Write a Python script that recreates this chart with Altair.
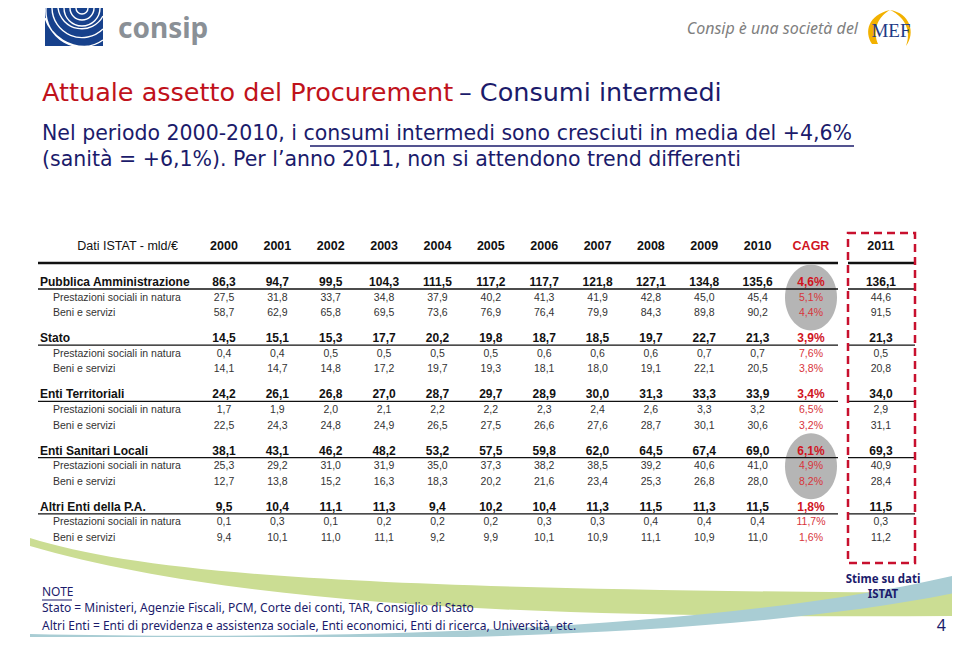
import altair as alt
import pandas as pd

# ---------------- data ----------------
years = ["2000", "2001", "2002", "2003", "2004", "2005", "2006", "2007", "2008", "2009", "2010"]
groups = ["Pubblica Amministrazione", "Stato", "Enti Territoriali", "Enti Sanitari Locali", "Altri Enti della P.A."]
subs = ["Prestazioni sociali in natura", "Beni e servizi"]

pa_tot = [86.3, 94.7, 99.5, 104.3, 111.5, 117.2, 117.7, 121.8, 127.1, 134.8, 135.6]
pa_pres = [27.5, 31.8, 33.7, 34.8, 37.9, 40.2, 41.3, 41.9, 42.8, 45.0, 45.4]
pa_beni = [58.7, 62.9, 65.8, 69.5, 73.6, 76.9, 76.4, 79.9, 84.3, 89.8, 90.2]
pa_cagr = [4.6, 5.1, 4.4]
pa_2011 = [136.1, 44.6, 91.5]

st_tot = [14.5, 15.1, 15.3, 17.7, 20.2, 19.8, 18.7, 18.5, 19.7, 22.7, 21.3]
st_pres = [0.4, 0.4, 0.5, 0.5, 0.5, 0.5, 0.6, 0.6, 0.6, 0.7, 0.7]
st_beni = [14.1, 14.7, 14.8, 17.2, 19.7, 19.3, 18.1, 18.0, 19.1, 22.1, 20.5]
st_cagr = [3.9, 7.6, 3.8]
st_2011 = [21.3, 0.5, 20.8]

et_tot = [24.2, 26.1, 26.8, 27.0, 28.7, 29.7, 28.9, 30.0, 31.3, 33.3, 33.9]
et_pres = [1.7, 1.9, 2.0, 2.1, 2.2, 2.2, 2.3, 2.4, 2.6, 3.3, 3.2]
et_beni = [22.5, 24.3, 24.8, 24.9, 26.5, 27.5, 26.6, 27.6, 28.7, 30.1, 30.6]
et_cagr = [3.4, 6.5, 3.2]
et_2011 = [34.0, 2.9, 31.1]

esl_tot = [38.1, 43.1, 46.2, 48.2, 53.2, 57.5, 59.8, 62.0, 64.5, 67.4, 69.0]
esl_pres = [25.3, 29.2, 31.0, 31.9, 35.0, 37.3, 38.2, 38.5, 39.2, 40.6, 41.0]
esl_beni = [12.7, 13.8, 15.2, 16.3, 18.3, 20.2, 21.6, 23.4, 25.3, 26.8, 28.0]
esl_cagr = [6.1, 4.9, 8.2]
esl_2011 = [69.3, 40.9, 28.4]

al_tot = [9.5, 10.4, 11.1, 11.3, 9.4, 10.2, 10.4, 11.3, 11.5, 11.3, 11.5]
al_pres = [0.1, 0.3, 0.1, 0.2, 0.2, 0.2, 0.3, 0.3, 0.4, 0.4, 0.4]
al_beni = [9.4, 10.1, 11.0, 11.1, 9.2, 9.9, 10.1, 10.9, 11.1, 10.9, 11.0]
al_cagr = [1.8, 11.7, 1.6]
al_2011 = [11.5, 0.3, 11.2]

highlighted = ["Pubblica Amministrazione", "Enti Sanitari Locali"]

# ---------------- layout constants ----------------
GROUP_STEP = 3.6
COL_CAGR = 11
COL_2011 = 12.31
NAVY = "#1b1b6b"
RED = "#c0121b"
TFONT = "Liberation Sans"
SFONT = "Noto Sans"
HFONT = "DejaVu Sans"

def fmt(v):
    return f"{v:.1f}".replace(".", ",")

table = [
    (pa_tot, pa_pres, pa_beni, pa_cagr, pa_2011),
    (st_tot, st_pres, st_beni, st_cagr, st_2011),
    (et_tot, et_pres, et_beni, et_cagr, et_2011),
    (esl_tot, esl_pres, esl_beni, esl_cagr, esl_2011),
    (al_tot, al_pres, al_beni, al_cagr, al_2011),
]

cells, labels, lines = [], [], []
for g, (name, (tot, pres, beni, cagr, v11)) in enumerate(zip(groups, table)):
    base = g * GROUP_STEP
    lines.append({"row": base + 0.45, "group": name})
    for s, (lab, vals) in enumerate([(name, tot), (subs[0], pres), (subs[1], beni)]):
        row = base + s
        kind = "tot" if s == 0 else "sub"
        labels.append({"row": row, "label": lab, "kind": kind})
        for i, v in enumerate(vals):
            cells.append({"row": row, "col": i, "txt": fmt(v), "kind": kind})
        cells.append({"row": row, "col": COL_CAGR, "txt": fmt(cagr[s]) + "%", "kind": "cagr_" + kind})
        cells.append({"row": row, "col": COL_2011, "txt": fmt(v11[s]), "kind": kind})

cells = pd.DataFrame(cells)
labels = pd.DataFrame(labels)
lines = pd.DataFrame(lines)
header = pd.DataFrame({"col": list(range(len(years))) + [COL_CAGR, COL_2011],
                       "txt": years + ["CAGR", "2011"],
                       "kind": ["y"] * len(years) + ["cagr", "y"]})
header["row"] = -2.3
ell = pd.DataFrame({"row": [groups.index(h) * GROUP_STEP + 1 for h in highlighted], "col": COL_CAGR})

xs = alt.Scale(domain=[0, 11], range=[216, 803])
ys = alt.Scale(domain=[0, 16.4], range=[274, 530])
X = alt.X("col:Q", scale=xs, axis=None)
Y = alt.Y("row:Q", scale=ys, axis=None)

one = pd.DataFrame({"t": [""]})

def txt(s, x, y, size, color, weight="normal", font=SFONT, align="left", style="normal"):
    return alt.Chart(pd.DataFrame({"t": [s]})).mark_text(
        align=align, baseline="middle", fontSize=size, font=font, color=color,
        fontWeight=weight, fontStyle=style
    ).encode(text="t:N", x=alt.value(x), y=alt.value(y))

def shape(path, color, filled=True, sw=1.0, opacity=1.0):
    if filled:
        m = alt.Chart(one).mark_point(shape=path, size=4, filled=True, fill=color, strokeWidth=0, opacity=opacity)
    else:
        m = alt.Chart(one).mark_point(shape=path, size=4, filled=False, stroke=color, strokeWidth=sw, opacity=opacity)
    return m.encode(x=alt.value(0), y=alt.value(0))

layers = []

# background swooshes
layers.append(shape("M 22 530 C 150 570 400 582 952 585 L 952 608 C 600 610 250 604 22 538 Z", "#cbdd93"))
layers.append(shape("M 22 626 C 300 632 700 626 952 566 L 952 584 C 700 636 300 634 22 629 Z", "#a9cdd4"))

# consip logo
layers.append(alt.Chart(one).mark_rect(color="#17418c").encode(
    x=alt.value(37), x2=alt.value(95), y=alt.value(0), y2=alt.value(38)))
layers.append(shape("M 68 0 A 6 6 0 0 0 80 0 M 62 0 A 12 12 0 0 0 86 0 M 56 0 A 18 18 0 0 0 92 0 "
                    "M 50 0 A 24 24 0 0 0 95 8 M 44 0 A 30 30 0 0 0 95 21 M 38 0 A 36 36 0 0 0 95 32 "
                    "M 37 10 A 42 42 0 0 0 83 38", "white", filled=False, sw=1.4))
layers.append(txt("consip", 110, 22, 28, "#8a9096", weight="bold", font="Noto Sans"))
layers.append(txt("Consip è una società del", 850, 21, 16, "#7f7f7f", font="Noto Sans", align="right", style="italic"))
layers.append(shape("M 864 36 C 856 24 860 7 882 2 C 868 10 865 24 870 36 Z M 882 2 C 902 5 908 25 898 38 C 903 25 899 10 882 2 Z", "#f2b100"))
layers.append(txt("MEF", 883, 23, 19, "#1f3b85", font="Liberation Serif", align="center"))

# titles
layers.append(txt("Attuale assetto del Procurement", 34, 85, 25.5, RED, font=HFONT))
layers.append(txt("– Consumi intermedi", 451, 85, 25.5, NAVY, font=HFONT))
layers.append(txt("Nel periodo 2000-2010, i consumi intermedi sono cresciuti in media del +4,6%", 34, 126, 20.5, NAVY, font=HFONT))
layers.append(txt("(sanità = +6,1%). Per l’anno 2011, non si attendono trend differenti", 34, 152, 20.5, NAVY, font=HFONT))
layers.append(alt.Chart(one).mark_rule(color=NAVY, strokeWidth=1.5).encode(
    x=alt.value(302), x2=alt.value(846), y=alt.value(138)))

# table header
layers.append(txt("Dati ISTAT - mld/€", 170, 238, 12.5, "#111111", font=TFONT, align="right"))
layers.append(alt.Chart(header).mark_text(fontSize=12.5, font=TFONT, fontWeight="bold", baseline="middle").encode(
    x=X, y=Y, text="txt:N",
    color=alt.Color("kind:N", scale=alt.Scale(domain=["y", "cagr"], range=["#111111", "#d0141e"]), legend=None)))

# header thick line and group lines
hl = pd.DataFrame({"row": [-1.22]})
layers.append(alt.Chart(hl).mark_rule(color="#111111", strokeWidth=2.6).encode(y=Y, x=alt.value(30), x2=alt.value(830)))
layers.append(alt.Chart(hl).mark_rule(color="#111111", strokeWidth=2.6).encode(y=Y, x=alt.value(840), x2=alt.value(907)))

# grey ellipses
layers.append(alt.Chart(ell).mark_point(
    shape="M -26 0 A 26 33 0 1 1 26 0 A 26 33 0 1 1 -26 0 Z", size=4, filled=True,
    fill="#b5b5b5", strokeWidth=0, opacity=1).encode(x=X, y=Y))

layers.append(alt.Chart(lines).mark_rule(color="#111111", strokeWidth=1.3).encode(y=Y, x=alt.value(30), x2=alt.value(830)))
layers.append(alt.Chart(lines).mark_rule(color="#111111", strokeWidth=1.3).encode(y=Y, x=alt.value(840), x2=alt.value(907)))

# row labels
layers.append(alt.Chart(labels[labels.kind == "tot"]).mark_text(
    align="left", baseline="middle", fontSize=12, font=TFONT, fontWeight="bold", color="#111111"
).encode(x=alt.value(32), y=Y, text="label:N"))
layers.append(alt.Chart(labels[labels.kind == "sub"]).mark_text(
    align="left", baseline="middle", fontSize=10.5, font=TFONT, color="#333333"
).encode(x=alt.value(45), y=Y, text="label:N"))

# cells
styles = {
    "tot": dict(fontSize=12, fontWeight="bold", color="#111111"),
    "sub": dict(fontSize=10.5, fontWeight="normal", color="#333333"),
    "cagr_tot": dict(fontSize=12, fontWeight="bold", color="#d0141e"),
    "cagr_sub": dict(fontSize=10.5, fontWeight="normal", color="#d8343a"),
}
for k, st in styles.items():
    layers.append(alt.Chart(cells[cells.kind == k]).mark_text(
        baseline="middle", font=TFONT, **st).encode(x=X, y=Y, text="txt:N"))

# dashed 2011 box
layers.append(alt.Chart(one).mark_rect(fillOpacity=0, stroke="#c8102e", strokeWidth=2.5, strokeDash=[8, 5]).encode(
    x=alt.value(840), x2=alt.value(907), y=alt.value(225), y2=alt.value(555)))

# notes
layers.append(txt("Stime su dati", 875, 572, 11.5, NAVY, weight="bold", align="center"))
layers.append(txt("ISTAT", 875, 587, 11.5, NAVY, weight="bold", align="center"))
layers.append(txt("NOTE", 34, 584, 12, NAVY))
layers.append(alt.Chart(one).mark_rule(color=NAVY, strokeWidth=1).encode(x=alt.value(34), x2=alt.value(64), y=alt.value(592)))
layers.append(txt("Stato = Ministeri, Agenzie Fiscali, PCM, Corte dei conti, TAR, Consiglio di Stato", 34, 600, 12, NAVY))
layers.append(txt("Altri Enti = Enti di previdenza e assistenza sociale, Enti economici, Enti di ricerca, Università, etc.", 34, 618, 12, NAVY))
layers.append(txt("4", 938, 618, 16, NAVY, align="right"))

chart = alt.layer(*layers).properties(
    width=944, height=629, autosize=alt.AutoSizeParams(type="none"), padding=0
).configure_view(stroke=None).resolve_scale(color="independent")

chart.save("out.html", embed_options={"renderer": "svg", "actions": False})
